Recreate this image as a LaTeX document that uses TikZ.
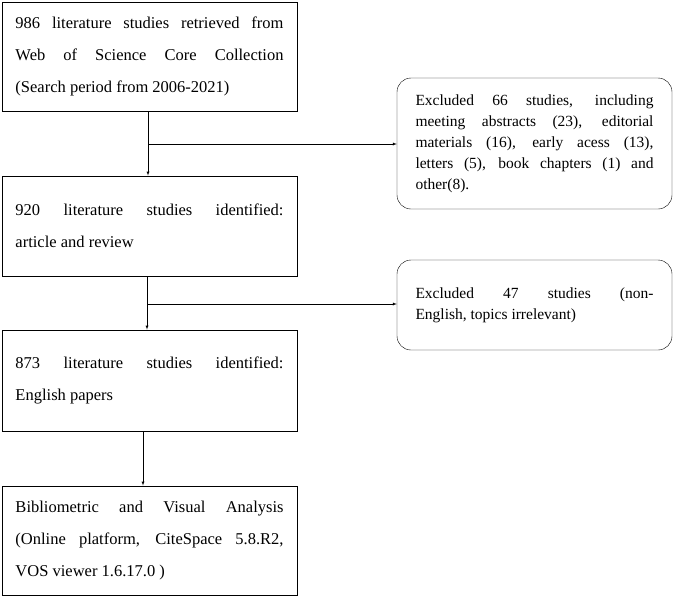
\documentclass[tikz,border=0pt]{standalone}
\usepackage{fontspec}
\setmainfont{Liberation Serif}
\usetikzlibrary{arrows,positioning}
\newcommand{\nohyph}{\hyphenpenalty=10000\relax}

\begin{document}
\begin{tikzpicture}[x=1pt,y=-1pt,>=latex,
  mainbox/.style={draw,thick,rectangle,minimum width=295,text width=268,
    align=justify,font=\fontsize{16.5}{31.6}\selectfont\nohyph,inner sep=0},
  sidebox/.style={draw,rectangle,rounded corners=14,minimum width=275,text width=238,
    align=justify,font=\fontsize{15.5}{21}\selectfont\nohyph,inner sep=0}]
  \useasboundingbox (0,0) rectangle (675,597);
  % left column
  \node[mainbox,minimum height=109] (search) at (149.5,56.5)
    {986 literature studies retrieved from\linebreak Web of Science Core Collection\linebreak (Search period from 2006-2021)};
  \node[mainbox,minimum height=100] (article) at (149.5,226)
    {920 literature studies identified:\linebreak article and review};
  \node[mainbox,minimum height=101] (english) at (149.5,380.5)
    {873 literature studies identified:\linebreak English papers};
  \node[mainbox,minimum height=109] (analysis) at (149.5,540.5)
    {Bibliometric and Visual Analysis\linebreak (Online platform, CiteSpace 5.8.R2,\linebreak VOS viewer 1.6.17.0 )};
  % right column
  \node[sidebox,minimum height=131] (excl1) at (534.5,143.5)
    {Excluded 66 studies, including\linebreak meeting abstracts (23), editorial\linebreak materials (16), early acess (13),\linebreak letters (5), book chapters (1) and\linebreak other(8).};
  \node[sidebox,minimum height=90] (excl2) at (534.5,305)
    {Excluded 47 studies (non-\linebreak English, topics irrelevant)};
  % arrows
  \draw[->] (search.south -| 148,0) -- (article.north -| 148,0);
  \draw[->] (article.south -| 147,0) -- (english.north -| 147,0);
  \draw[->] (english.south -| 143,0) -- (analysis.north -| 143,0);
  \coordinate (b1) at (148,144);
  \coordinate (b2) at (147,304);
  \draw[->] (b1) -- (b1 -| excl1.west);
  \draw[->] (b2) -- (b2 -| excl2.west);
\end{tikzpicture}
\end{document}
